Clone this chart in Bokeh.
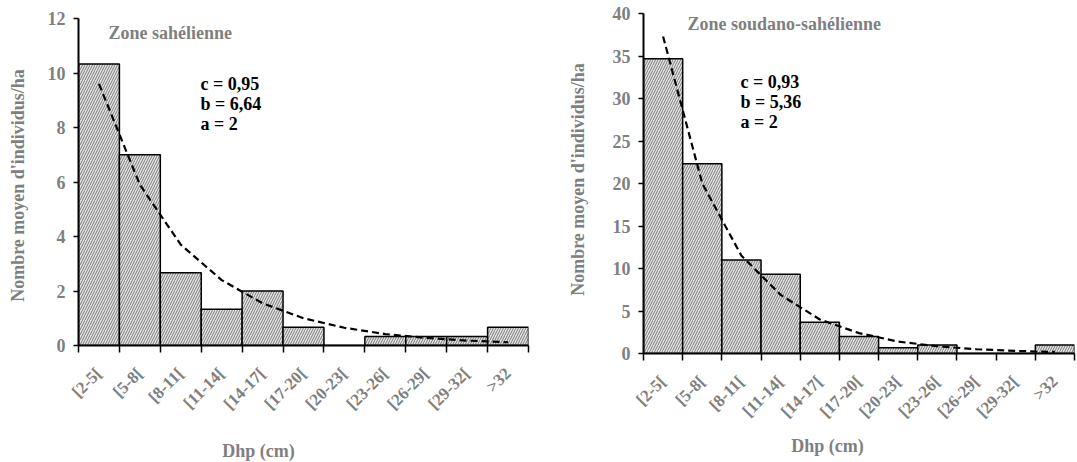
from math import pi
from bokeh.plotting import figure
from bokeh.models import Range1d, FixedTicker, Label, ColumnDataSource
from bokeh.layouts import row, column
from bokeh.embed import file_html
from bokeh.resources import INLINE

# ---- data ----
classes = ["[2-5[", "[5-8[", "[8-11[", "[11-14[", "[14-17[", "[17-20[",
           "[20-23[", "[23-26[", "[26-29[", "[29-32[", ">32"]

sahel_values = [10.33, 7.0, 2.67, 1.33, 2.0, 0.67, 0.0, 0.33, 0.33, 0.33, 0.67]
sahel_fit = [9.6, 5.9, 3.7, 2.4, 1.55, 1.0, 0.65, 0.42, 0.28, 0.18, 0.12]
sahel_yticks = [0, 2, 4, 6, 8, 10, 12]
sahel_title = "Zone sahélienne"
sahel_params = ["c = 0,95", "b = 6,64", "a = 2"]

soudan_values = [34.67, 22.33, 11.0, 9.33, 3.67, 2.0, 0.67, 1.0, 0.0, 0.0, 1.0]
soudan_fit = [37.3, 20.0, 11.5, 6.9, 4.0, 2.4, 1.4, 0.85, 0.5, 0.3, 0.18]
soudan_yticks = [0, 5, 10, 15, 20, 25, 30, 35, 40]
soudan_title = "Zone soudano-sahélienne"
soudan_params = ["c = 0,93", "b = 5,36", "a = 2"]

x_title = "Dhp (cm)"
y_title = "Nombre moyen d'individus/ha"

FONT = "Liberation Serif"
GRAY = "#7f7f7f"
TOP_H = 432      # height of the chart row
BOT_H = 30       # height of the x-title strip
YT_W = 30        # width of the y-title strip


def text_fig(w, h, text, cx, cy, angle=0.0):
    """A bare figure whose frame is the whole canvas, holding one text.
    cx, cy are pixel positions from the top-left of this strip."""
    f = figure(frame_width=w, frame_height=h, min_border=0,
               x_range=Range1d(0, w), y_range=Range1d(0, h),
               x_axis_location=None, y_axis_location=None,
               output_backend="svg", toolbar_location=None,
               background_fill_color="white", border_fill_color="white")
    f.outline_line_color = None
    f.grid.visible = False
    f.add_layout(Label(x=cx, y=h - cy, text=text, angle=angle,
                       text_font=FONT, text_font_style="bold",
                       text_font_size="18px", text_color=GRAY,
                       text_align="center", text_baseline="middle"))
    return f


def make_panel(values, fit, yticks, title, params, geom):
    n = len(classes)
    left = list(range(n))
    right = [i + 1 for i in left]
    centers = [i + 0.5 for i in left]
    ymax = yticks[-1]

    p = figure(frame_width=geom["fw"], frame_height=geom["fh"],
               min_border_left=geom["bl"], min_border_right=geom["br"],
               min_border_top=geom["bt"], min_border_bottom=geom["bb"],
               x_range=Range1d(0, n), y_range=Range1d(0, ymax),
               output_backend="svg", toolbar_location=None,
               background_fill_color="white", border_fill_color="white")
    p.outline_line_color = None
    p.xgrid.grid_line_color = None
    p.ygrid.grid_line_color = None

    src = ColumnDataSource(dict(left=left, right=right, top=values,
                                bottom=[0] * n))
    p.quad(left="left", right="right", top="top", bottom="bottom", source=src,
           fill_color="#e6e6e6", line_color="black", line_width=1.5,
           hatch_pattern="/", hatch_color="#5a5a5a", hatch_scale=5,
           hatch_weight=0.8)

    p.line(centers, fit, line_color="black", line_width=2.2, line_dash="7 4")

    # x axis
    xa = p.xaxis[0]
    xa.ticker = FixedTicker(ticks=centers, minor_ticks=list(range(n + 1)))
    xa.major_label_overrides = {c: lab for c, lab in zip(centers, classes)}
    xa.major_label_orientation = pi / 4
    xa.major_tick_line_color = None
    xa.minor_tick_line_color = "black"
    xa.minor_tick_line_width = 1.5
    xa.minor_tick_in = 0
    xa.minor_tick_out = 7
    xa.axis_line_color = "black"
    xa.axis_line_width = 2
    xa.major_label_text_font = FONT
    xa.major_label_text_font_style = "bold"
    xa.major_label_text_font_size = "17px"
    xa.major_label_text_color = GRAY
    xa.major_label_standoff = 18

    # y axis
    ya = p.yaxis[0]
    ya.ticker = FixedTicker(ticks=yticks)
    ya.major_tick_in = 0
    ya.major_tick_out = 5
    ya.major_tick_line_width = 1.5
    ya.minor_tick_line_color = None
    ya.axis_line_color = "black"
    ya.axis_line_width = 2
    ya.major_label_text_font = FONT
    ya.major_label_text_font_style = "bold"
    ya.major_label_text_font_size = "18px"
    ya.major_label_text_color = GRAY
    ya.major_label_standoff = 8

    pxu_x = geom["fw"] / n
    pxu_y = geom["fh"] / ymax

    def lab(text, px_x, px_y, color):
        # px_x, px_y: offsets in pixels from the frame's bottom-left corner
        p.add_layout(Label(x=px_x / pxu_x, y=px_y / pxu_y, text=text,
                           text_font=FONT, text_font_style="bold",
                           text_font_size="18px", text_color=color,
                           text_align="left", text_baseline="alphabetic"))

    lab(title, geom["title"][0], geom["title"][1], GRAY)
    for k, t in enumerate(params):
        lab(t, geom["params"][0], geom["params"][1] - 20 * k, "black")
    return p


# geometry in pixels
W1, W2 = 568, 509
g1 = dict(fw=450, fh=327, bl=78 - YT_W, br=W1 - 78 - 450, bt=18,
          bb=TOP_H - 345,
          title=(30, 345 - 32), params=(122, 345 - 83))
g2 = dict(fw=431, fh=340, bl=643 - W1 - YT_W, br=W2 - (643 - W1) - 431, bt=13,
          bb=TOP_H - 353,
          title=(44, 353 - 23), params=(97, 353 - 81))

p1 = make_panel(sahel_values, sahel_fit, sahel_yticks, sahel_title,
                sahel_params, g1)
p2 = make_panel(soudan_values, soudan_fit, soudan_yticks, soudan_title,
                soudan_params, g2)

yt1 = text_fig(YT_W, TOP_H, y_title, 17, 167, angle=pi / 2)
yt2 = text_fig(YT_W, TOP_H, y_title, 577 - W1, 166, angle=pi / 2)
xt1 = text_fig(W1, BOT_H, x_title, 258, 450 - TOP_H)
xt2 = text_fig(W2, BOT_H, x_title, 827 - W1, 445 - TOP_H)

left_block = column(row(yt1, p1), xt1)
right_block = column(row(yt2, p2), xt2)
layout = row(left_block, right_block)
open("out.html", "w").write(file_html(layout, INLINE))
